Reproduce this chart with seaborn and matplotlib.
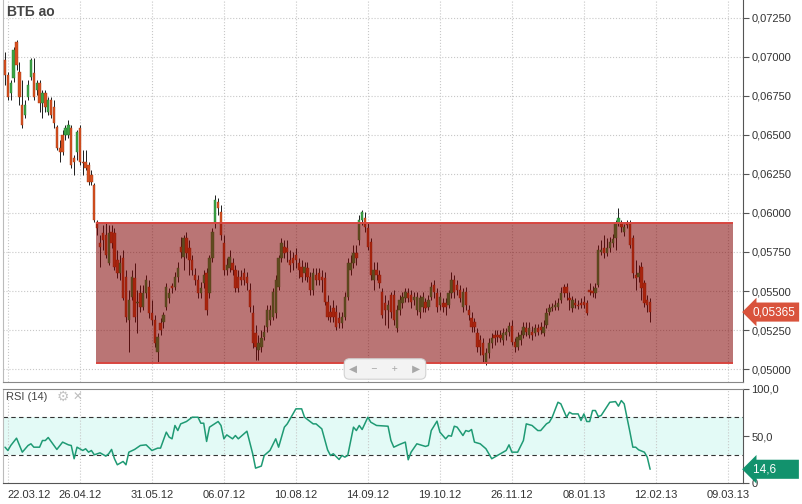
import numpy as np
import matplotlib
matplotlib.use("Agg")
import matplotlib.pyplot as plt
import matplotlib.patches as mpatches
import seaborn as sns

# daily OHLC, VTB ordinary shares, in 1e-5 RUB (first bar 21.03.12, last 11.02.13)
open_e5 = [
    6981, 6885, 6769, 6865, 7096, 6904, 6692, 6628, 6744, 6872,
    6897, 6788, 6833, 6705, 6769, 6647, 6724, 6679, 6551, 6417,
    6500, 6500, 6500, 6545, 6352, 6391, 6545, 6327, 6327, 6308,
    6244, 6179, 5942, 5808, 5872, 5859, 5679, 5878, 5872, 5699,
    5615, 5712, 5590, 5314, 5462, 5583, 5423, 5487, 5397, 5487,
    5526, 5359, 5314, 5109, 5295, 5301, 5397, 5455, 5532, 5526,
    5590, 5782, 5718, 5840, 5776, 5699, 5603, 5570, 5487, 5551,
    5615, 5487, 5712, 5942, 6071, 6006, 5808, 5635, 5647, 5679,
    5635, 5590, 5590, 5615, 5590, 5506, 5359, 5231, 5122, 5141,
    5205, 5269, 5314, 5333, 5359, 5526, 5712, 5782, 5776, 5699,
    5712, 5731, 5679, 5654, 5615, 5647, 5590, 5506, 5603, 5615,
    5590, 5583, 5430, 5365, 5391, 5365, 5327, 5295, 5333, 5462,
    5635, 5679, 5744, 5827, 5955, 5968, 5904, 5814, 5570, 5635,
    5603, 5494, 5423, 5378, 5474, 5474, 5263, 5378, 5423, 5455,
    5487, 5474, 5442, 5378, 5365, 5397, 5430, 5397, 5462, 5538,
    5487, 5410, 5423, 5423, 5410, 5487, 5570, 5538, 5506, 5397,
    5494, 5378, 5327, 5301, 5231, 5186, 5167, 5045, 5103, 5167,
    5218, 5218, 5218, 5186, 5218, 5237, 5276, 5173, 5141, 5186,
    5218, 5263, 5218, 5237, 5231, 5263, 5269, 5231, 5282, 5365,
    5391, 5397, 5397, 5442, 5526, 5526, 5455, 5391, 5423, 5410,
    5423, 5430, 5423, 5506, 5500, 5487, 5538, 5750, 5776, 5744,
    5776, 5808, 5840, 5936, 5936, 5878, 5936, 5936, 5840, 5603,
    5590, 5654, 5551, 5442, 5430,
]
high_e5 = [
    7032, 6904, 6853, 7064, 7109, 6968, 6853, 6724, 6853, 6994,
    6994, 6853, 6853, 6788, 6788, 6744, 6744, 6724, 6564, 6468,
    6532, 6564, 6596, 6564, 6372, 6532, 6564, 6404, 6404, 6327,
    6276, 6192, 5955, 5859, 5923, 5942, 5923, 5923, 5904, 5763,
    5731, 5763, 5635, 5506, 5635, 5679, 5506, 5538, 5538, 5603,
    5570, 5442, 5346, 5231, 5327, 5365, 5551, 5519, 5551, 5622,
    5686, 5846, 5859, 5878, 5827, 5731, 5647, 5603, 5558, 5635,
    5647, 5731, 5904, 6115, 6096, 6051, 5859, 5712, 5763, 5712,
    5667, 5635, 5635, 5647, 5622, 5551, 5410, 5282, 5218, 5250,
    5282, 5410, 5410, 5519, 5603, 5731, 5840, 5827, 5827, 5763,
    5750, 5776, 5712, 5699, 5686, 5686, 5622, 5647, 5647, 5647,
    5635, 5622, 5474, 5410, 5442, 5410, 5365, 5365, 5494, 5712,
    5731, 5795, 5795, 5987, 6019, 6006, 5942, 5840, 5686, 5686,
    5635, 5519, 5474, 5442, 5494, 5506, 5410, 5474, 5494, 5519,
    5519, 5506, 5494, 5494, 5474, 5494, 5455, 5474, 5558, 5570,
    5519, 5494, 5455, 5455, 5506, 5622, 5603, 5570, 5538, 5519,
    5526, 5410, 5365, 5327, 5263, 5218, 5199, 5135, 5199, 5231,
    5250, 5250, 5250, 5263, 5263, 5301, 5314, 5199, 5237, 5250,
    5301, 5301, 5301, 5276, 5288, 5288, 5301, 5314, 5391, 5417,
    5423, 5442, 5455, 5526, 5545, 5551, 5494, 5468, 5455, 5442,
    5455, 5468, 5442, 5551, 5532, 5551, 5795, 5827, 5859, 5840,
    5846, 5865, 5955, 6032, 5955, 5929, 5955, 5955, 5859, 5699,
    5667, 5686, 5570, 5474, 5455,
]
low_e5 = [
    6820, 6724, 6724, 6840, 6917, 6692, 6545, 6609, 6724, 6853,
    6724, 6756, 6647, 6609, 6647, 6628, 6609, 6545, 6404, 6327,
    6372, 6468, 6481, 6288, 6244, 6340, 6308, 6244, 6276, 6179,
    6179, 5942, 5859, 5654, 5763, 5712, 5667, 5776, 5635, 5583,
    5570, 5442, 5301, 5109, 5442, 5301, 5231, 5365, 5378, 5455,
    5327, 5282, 5141, 5045, 5218, 5263, 5378, 5423, 5487, 5506,
    5558, 5712, 5635, 5712, 5603, 5603, 5538, 5455, 5455, 5519,
    5346, 5455, 5686, 5904, 5987, 5827, 5603, 5603, 5622, 5603,
    5494, 5494, 5538, 5538, 5506, 5365, 5135, 5058, 5058, 5109,
    5186, 5237, 5282, 5314, 5327, 5506, 5686, 5712, 5686, 5622,
    5635, 5647, 5583, 5558, 5570, 5558, 5474, 5474, 5538, 5538,
    5494, 5410, 5314, 5301, 5301, 5250, 5263, 5263, 5314, 5442,
    5603, 5647, 5667, 5795, 5923, 5878, 5763, 5570, 5506, 5570,
    5519, 5327, 5282, 5263, 5327, 5282, 5237, 5346, 5391, 5430,
    5430, 5391, 5410, 5346, 5327, 5365, 5365, 5378, 5442, 5455,
    5365, 5378, 5365, 5346, 5391, 5455, 5455, 5474, 5430, 5365,
    5378, 5314, 5237, 5237, 5109, 5090, 5045, 5026, 5071, 5135,
    5154, 5173, 5173, 5154, 5186, 5212, 5154, 5109, 5122, 5154,
    5199, 5212, 5199, 5186, 5212, 5218, 5224, 5212, 5263, 5346,
    5372, 5378, 5378, 5423, 5462, 5442, 5378, 5365, 5391, 5385,
    5391, 5391, 5346, 5474, 5462, 5455, 5526, 5731, 5712, 5724,
    5750, 5782, 5763, 5917, 5878, 5853, 5904, 5776, 5583, 5506,
    5558, 5442, 5397, 5365, 5301,
]
close_e5 = [
    6885, 6744, 6833, 7045, 6949, 6744, 6564, 6692, 6820, 6981,
    6744, 6833, 6705, 6769, 6679, 6724, 6628, 6577, 6417, 6391,
    6391, 6545, 6564, 6308, 6327, 6519, 6327, 6320, 6288, 6199,
    6199, 5955, 5904, 5782, 5827, 5731, 5872, 5808, 5654, 5615,
    5679, 5455, 5333, 5442, 5590, 5333, 5430, 5397, 5487, 5570,
    5359, 5314, 5167, 5205, 5250, 5346, 5526, 5487, 5519, 5590,
    5647, 5750, 5840, 5744, 5699, 5635, 5570, 5487, 5519, 5603,
    5378, 5712, 5878, 6083, 6032, 5859, 5635, 5667, 5718, 5635,
    5519, 5519, 5570, 5570, 5551, 5397, 5167, 5141, 5167, 5199,
    5237, 5378, 5378, 5494, 5570, 5712, 5808, 5744, 5750, 5667,
    5679, 5699, 5635, 5590, 5654, 5590, 5506, 5615, 5570, 5570,
    5570, 5430, 5333, 5333, 5333, 5269, 5295, 5333, 5462, 5679,
    5679, 5744, 5712, 5955, 6006, 5910, 5782, 5603, 5635, 5603,
    5551, 5346, 5378, 5410, 5365, 5314, 5378, 5442, 5462, 5494,
    5455, 5430, 5462, 5462, 5455, 5462, 5391, 5442, 5526, 5494,
    5397, 5462, 5397, 5397, 5487, 5570, 5494, 5506, 5455, 5494,
    5410, 5346, 5269, 5269, 5141, 5141, 5090, 5103, 5167, 5199,
    5199, 5205, 5199, 5231, 5237, 5276, 5173, 5141, 5205, 5218,
    5269, 5237, 5263, 5218, 5263, 5237, 5250, 5269, 5359, 5391,
    5397, 5410, 5423, 5487, 5487, 5487, 5442, 5442, 5410, 5404,
    5410, 5410, 5359, 5494, 5487, 5519, 5763, 5763, 5744, 5776,
    5814, 5833, 5936, 5968, 5910, 5910, 5923, 5795, 5615, 5583,
    5615, 5519, 5423, 5410, 5365,
]

# RSI(14): bar number -> value
rsi_idx = [0, 1, 2, 4, 6, 8, 9, 10, 12, 13, 14, 15, 17, 18, 20, 22, 23, 24, 25, 27,
           28, 29, 30, 31, 33, 35, 36, 37, 38, 39, 41, 42, 43, 45, 47, 49, 51, 53, 54, 56,
           57, 58, 59, 60, 61, 63, 65, 67, 68, 69, 70, 71, 74, 75, 76, 77, 79, 80, 81, 84,
           86, 87, 89, 90, 92, 94, 95, 97, 98, 100, 101, 103, 104, 107, 108, 110, 112, 113, 114, 116,
           117, 118, 119, 121, 122, 123, 124, 126, 127, 129, 133, 134, 135, 137, 139, 140, 141, 143, 146, 147,
           148, 150, 151, 153, 154, 155, 156, 157, 159, 160, 161, 162, 163, 165, 167, 169, 172, 174, 175, 176,
           178, 180, 181, 183, 185, 186, 188, 189, 190, 192, 193, 195, 196, 197, 199, 200, 201, 202, 203, 204,
           205, 206, 207, 210, 212, 213, 214, 215, 217, 218, 219, 220, 222, 223, 224]
rsi_val = [38.1, 34.6, 39.9, 47.7, 32.8, 39.9, 41.7, 38.1, 38.1, 45.2, 45.2, 48.4, 39.9, 35.7, 43.5, 40.6, 39.9, 25.8, 38.1, 34.6,
           36.4, 32.8, 34.6, 30.0, 32.1, 28.6, 31.1, 35.7, 25.8, 19.4, 22.9, 19.4, 32.8, 35.7, 39.9, 40.6, 34.6, 37.1, 37.1, 54.1,
           48.8, 47.0, 61.2, 55.8, 62.9, 65.4, 70.0, 70.0, 63.6, 63.6, 44.2, 59.4, 65.4, 61.2, 47.0, 51.2, 47.0, 50.5, 47.0, 55.1,
           31.1, 15.8, 18.0, 29.3, 34.6, 47.0, 38.1, 59.4, 62.9, 73.5, 78.9, 78.9, 70.0, 62.9, 62.9, 57.6, 35.3, 29.3, 31.1, 25.0,
           29.3, 27.5, 29.3, 59.4, 55.8, 61.2, 56.9, 70.0, 64.7, 61.2, 60.4, 45.2, 38.1, 41.0, 43.5, 24.7, 32.8, 41.7, 38.9, 39.9,
           55.8, 65.8, 54.1, 47.0, 50.5, 49.8, 60.4, 59.4, 50.5, 55.8, 54.8, 56.9, 43.5, 41.7, 36.4, 25.8, 31.1, 34.6, 40.6, 32.8,
           32.8, 45.2, 62.9, 61.2, 55.8, 55.8, 62.9, 64.7, 70.0, 85.9, 84.2, 70.0, 75.3, 73.5, 73.5, 66.5, 73.5, 65.4, 65.4, 77.1,
           77.1, 70.7, 71.8, 85.9, 86.6, 81.7, 87.7, 84.2, 54.1, 38.1, 38.1, 35.3, 32.8, 27.5, 14.6]

date_labels = ['22.03.12', '26.04.12', '31.05.12', '06.07.12', '10.08.12', '14.09.12',
               '19.10.12', '26.11.12', '08.01.13', '12.02.13', '09.03.13']
date_idx = [1, 26, 51, 76, 101, 126, 151, 176, 201, 226, 251]
price_ticks = [0.05, 0.0525, 0.055, 0.0575, 0.06, 0.0625, 0.065, 0.0675, 0.07, 0.0725]

# drawn range (sideways channel)
box_start, box_end = 31.6, 252.8
box_low, box_high = 0.05040, 0.05938

assert len(open_e5) == len(high_e5) == len(low_e5) == len(close_e5)
assert len(rsi_idx) == len(rsi_val)

opn = np.array(open_e5) / 1e5
high = np.array(high_e5) / 1e5
low = np.array(low_e5) / 1e5
close = np.array(close_e5) / 1e5
x = np.arange(len(close))

sns.set_theme(style="white")
plt.rcParams['font.family'] = ['Liberation Sans', 'DejaVu Sans']

W, H = 802, 504
def px_rect(x0, y0, x1, y1):
    return [x0 / W, 1 - y1 / H, (x1 - x0) / W, (y1 - y0) / H]

fig = plt.figure(figsize=(W / 100, H / 100), dpi=100)
ax = fig.add_axes(px_rect(3, 0, 743, 382))
ax_rsi = fig.add_axes(px_rect(3, 389, 743, 483))

# --- price panel ---
up = close >= opn
body_col = np.where(up, '#3aa444', '#d8501f')
edge_col = np.where(up, '#2b7a33', '#a33a16')
ax.vlines(x, low, high, color='#1c1c1c', lw=0.7, zorder=2)
ax.bar(x, np.maximum(np.abs(close - opn), 0.00003), bottom=np.minimum(opn, close),
       width=0.82, color=body_col, edgecolor=edge_col, linewidth=0.3, zorder=3)

ax.add_patch(mpatches.Rectangle((box_start, box_low), box_end - box_start, box_high - box_low,
                                facecolor=(0.5, 0.0, 0.0, 0.54), edgecolor='none', zorder=4))
ax.hlines([box_low, box_high], box_start, box_end, color='#d8453f', lw=1.4, zorder=5)

ax.set_xlim(-0.7, 256.25)
ax.set_ylim(0.049167, 0.073653)
ax.set_xticks(date_idx)
ax.set_xticklabels([])
ax.set_yticks(price_ticks)
ax.set_yticklabels([f"{v:.5f}".replace('.', ',') for v in price_ticks])
ax.yaxis.tick_right()
ax.tick_params(axis='y', length=4, width=0.8, color='#555555', labelsize=8, labelcolor='#333333', pad=2)
ax.tick_params(axis='x', length=0)
ax.grid(True, ls=':', color='#c8c8c8', lw=0.8)
ax.set_axisbelow(True)
for side, col in [('left', '#bbbbbb'), ('bottom', '#888888'), ('right', '#555555')]:
    ax.spines[side].set_color(col)
    ax.spines[side].set_linewidth(0.8)
ax.spines['top'].set_visible(False)

ax.text(0.0054, 0.987, 'ВТБ ао', transform=ax.transAxes, ha='left', va='top',
        fontsize=10, fontweight='bold', color='#444444')

ax.annotate(f"{close[-1]:.5f}".replace('.', ','), xy=(1, close[-1]),
            xycoords=('axes fraction', 'data'), xytext=(7, 0), textcoords='offset points',
            ha='left', va='center', fontsize=8.5, color='white', annotation_clip=False,
            bbox=dict(boxstyle='larrow,pad=0.3', fc='#d9533c', ec='none'))

fig.text(385 / W, 1 - 369 / H, '◀     −     +     ▶', ha='center', va='center',
         fontsize=7.5, color='#a8a8a8',
         bbox=dict(boxstyle='round,pad=0.5', fc='#f3f3f3', ec='#d2d2d2', lw=0.8))

# --- RSI panel ---
ax_rsi.axhspan(30, 70, color='#e3faf6', lw=0, zorder=0)
for lvl in (30, 70):
    ax_rsi.axhline(lvl, color='#333333', lw=0.8, dashes=(4, 3), zorder=1)
sns.lineplot(x=rsi_idx, y=rsi_val, ax=ax_rsi, color='#1f9a74', lw=1.1, zorder=3)
ax_rsi.set_xlabel('')
ax_rsi.set_ylabel('')
ax_rsi.set_xlim(-0.7, 256.25)
ax_rsi.set_ylim(0, 100)
ax_rsi.set_yticks([0, 50, 100])
ax_rsi.set_yticklabels(['0', '50,0', '100,0'])
ax_rsi.yaxis.tick_right()
ax_rsi.set_xticks(date_idx)
ax_rsi.set_xticklabels(date_labels)
ax_rsi.get_xticklabels()[0].set_horizontalalignment('left')
ax_rsi.tick_params(axis='y', length=4, width=0.8, color='#555555', labelsize=8, labelcolor='#333333', pad=2)
ax_rsi.tick_params(axis='x', length=3, width=0.8, color='#555555', labelsize=8, labelcolor='#333333', pad=2)
ax_rsi.grid(True, axis='x', ls=':', color='#c8c8c8', lw=0.8)
ax_rsi.set_axisbelow(True)
for side, col in [('left', '#bbbbbb'), ('top', '#888888'), ('bottom', '#555555'), ('right', '#555555')]:
    ax_rsi.spines[side].set_color(col)
    ax_rsi.spines[side].set_linewidth(0.8)

ax_rsi.text(0.004, 0.965, 'RSI (14)', transform=ax_rsi.transAxes, ha='left', va='top',
            fontsize=8, color='#444444')
ax_rsi.text(0.073, 0.99, '⚙', transform=ax_rsi.transAxes, ha='left', va='top',
            fontsize=10, color='#c4c4c4')
ax_rsi.text(0.094, 0.97, '✕', transform=ax_rsi.transAxes, ha='left', va='top',
            fontsize=8.5, color='#bdbdbd', fontweight='bold')

ax_rsi.annotate(f"{rsi_val[-1]:.1f}".replace('.', ',') + '      ', xy=(1, rsi_val[-1]),
                xycoords=('axes fraction', 'data'), xytext=(7, 0), textcoords='offset points',
                ha='left', va='center', fontsize=8.5, color='white', annotation_clip=False,
                bbox=dict(boxstyle='larrow,pad=0.3', fc='#12926d', ec='none'))

fig.savefig('out.png', dpi=100)
